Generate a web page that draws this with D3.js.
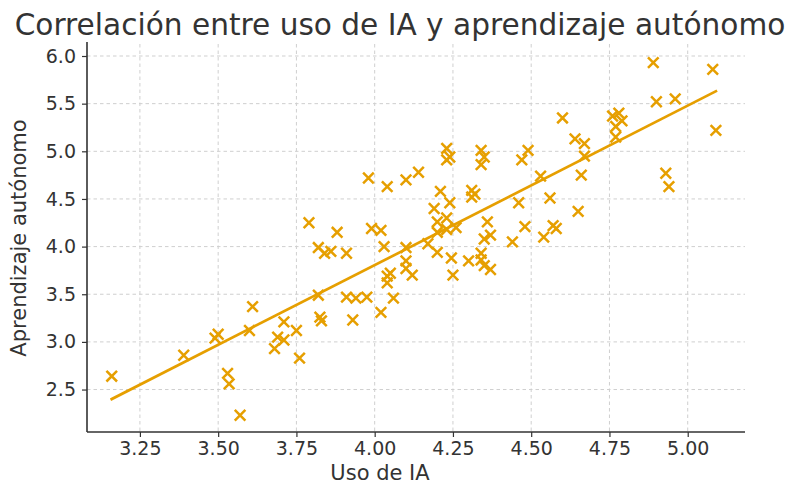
<!DOCTYPE html>
<html>
<head>
<meta charset="utf-8">
<script src="https://cdn.jsdelivr.net/npm/d3@7"></script>
<style>
  body { margin: 0; background: #fff; }
  svg { display: block; font-family: "DejaVu Sans", sans-serif; }
</style>
</head>
<body>
<svg id="chart" width="788" height="487"></svg>
<script>
// ---- Data ----
const usoIA = [
  3.16, 3.39, 3.49, 3.50, 3.53, 3.535, 3.57, 3.61, 3.60, 3.71, 3.69, 3.68, 3.71, 3.75, 3.76,
  3.79, 3.82, 3.84, 3.86, 3.82, 3.825, 3.83, 3.88, 3.91, 3.93, 3.91, 3.94, 3.975, 3.98, 4.02,
  4.03, 4.04, 3.99, 4.02, 4.04, 4.05, 4.04, 4.06, 4.10, 4.10, 4.10, 4.12, 4.10, 4.14,
  4.17, 4.20, 4.19, 4.21, 4.20, 4.23, 4.20, 4.23, 4.24, 4.26, 4.245, 4.25, 4.30, 4.34, 4.34, 4.35, 4.37,
  4.23, 4.24, 4.23, 4.34, 4.35, 4.34, 4.31, 4.32, 4.31, 4.36, 4.35, 4.37, 4.44, 4.46, 4.48, 4.47,
  4.49, 4.53, 4.56, 4.57, 4.58, 4.54,
  4.60, 4.64, 4.67, 4.67, 4.66, 4.65, 4.76, 4.78, 4.79, 4.77, 4.77, 4.89, 4.90, 4.96, 5.08, 5.09, 4.93, 4.94
];
const aprendizaje = [
  2.64, 2.86, 3.04, 3.08, 2.67, 2.56, 2.23, 3.37, 3.12, 3.21, 3.05, 2.93, 3.02, 3.12, 2.83,
  4.25, 3.99, 3.93, 3.95, 3.49, 3.26, 3.22, 4.15, 3.93, 3.23, 3.47, 3.46, 3.47, 4.72, 3.31,
  4.00, 4.63, 4.19, 4.17, 3.69, 3.72, 3.62, 3.46, 3.99, 3.85, 3.77, 3.70, 4.70, 4.78,
  4.03, 3.94, 4.40, 4.58, 4.26, 4.30, 4.15, 4.18, 4.46, 4.20, 3.88, 3.70, 3.85, 3.93, 3.86, 3.80, 3.76,
  5.03, 4.94, 4.91, 5.01, 4.94, 4.86, 4.59, 4.55, 4.52, 4.26, 4.08, 4.12, 4.05, 4.46, 4.21, 4.91,
  5.01, 4.74, 4.51, 4.22, 4.19, 4.10,
  5.35, 5.13, 5.08, 4.95, 4.75, 4.37, 5.37, 5.40, 5.32, 5.26, 5.15, 5.93, 5.52, 5.55, 5.86, 5.22, 4.77, 4.63
];
// fitted trend line (end points)
const trendX = [3.16, 5.09];
const trendY = [2.40, 5.63];

const xTicks = [3.25, 3.50, 3.75, 4.00, 4.25, 4.50, 4.75, 5.00];
const yTicks = [2.5, 3.0, 3.5, 4.0, 4.5, 5.0, 5.5, 6.0];
const xDomain = [3.081, 5.183];
const yDomain = [2.0545, 6.126];

const titleText = "Correlación entre uso de IA y aprendizaje autónomo";
const xLabel = "Uso de IA";
const yLabel = "Aprendizaje autónomo";

// ---- Layout ----
const color = "#E69F00";
const m = { left: 87, right: 745, top: 44, bottom: 432 };
const svg = d3.select("#chart");

const x = d3.scaleLinear().domain(xDomain).range([m.left, m.right]);
const y = d3.scaleLinear().domain(yDomain).range([m.bottom, m.top]);

// grid
const grid = svg.append("g").attr("class", "grid");
grid.selectAll("line.v").data(xTicks).join("line")
  .attr("x1", d => x(d)).attr("x2", d => x(d))
  .attr("y1", m.top).attr("y2", m.bottom)
  .attr("stroke", "#cfcfcf").attr("stroke-width", 1).attr("stroke-dasharray", "3.5,3");
grid.selectAll("line.h").data(yTicks).join("line")
  .attr("y1", d => y(d)).attr("y2", d => y(d))
  .attr("x1", m.left).attr("x2", m.right)
  .attr("stroke", "#cfcfcf").attr("stroke-width", 1).attr("stroke-dasharray", "3.5,3");

// axes
const xAxis = d3.axisBottom(x).tickValues(xTicks).tickFormat(d3.format(".2f")).tickSizeOuter(0).tickSize(5).tickPadding(5);
const yAxis = d3.axisLeft(y).tickValues(yTicks).tickFormat(d3.format(".1f")).tickSizeOuter(0).tickSize(5).tickPadding(6);

const gx = svg.append("g").attr("transform", `translate(0,${m.bottom})`).call(xAxis);
const gy = svg.append("g").attr("transform", `translate(${m.left},0)`).call(yAxis);
[gx, gy].forEach(g => {
  g.select(".domain").attr("stroke", "#333").attr("stroke-width", 1.6);
  g.selectAll(".tick line").attr("stroke", "#333").attr("stroke-width", 1.2);
  g.selectAll(".tick text").attr("fill", "#333").style("font-size", "19px").style("font-family", "DejaVu Sans, sans-serif");
});
gy.select(".domain").attr("d", `M0,${m.bottom}V${m.top - 2}`);
gx.select(".domain").attr("d", `M${m.left},0H${m.right}`);

// trend line
svg.append("line")
  .attr("x1", x(trendX[0])).attr("y1", y(trendY[0]))
  .attr("x2", x(trendX[1])).attr("y2", y(trendY[1]))
  .attr("stroke", color).attr("stroke-width", 2.7).attr("stroke-linecap", "square");

// points as "x" markers
const pts = d3.range(usoIA.length).map(i => ({ x: usoIA[i], y: aprendizaje[i] }));
const s = 5.3;
svg.append("g").selectAll("path").data(pts).join("path")
  .attr("transform", d => `translate(${x(d.x)},${y(d.y)})`)
  .attr("d", `M${-s},${-s}L${s},${s}M${-s},${s}L${s},${-s}`)
  .attr("stroke", color).attr("stroke-width", 2.5).attr("fill", "none");

// labels
svg.append("text").attr("x", 400).attr("y", 35).attr("text-anchor", "middle")
  .attr("fill", "#333").style("font-size", "29.6px").text(titleText);
svg.append("text").attr("x", 380).attr("y", 480).attr("text-anchor", "middle")
  .attr("fill", "#333").style("font-size", "21px").text(xLabel);
svg.append("text").attr("transform", `translate(26,${(m.top + m.bottom) / 2}) rotate(-90)`)
  .attr("text-anchor", "middle").attr("fill", "#333").style("font-size", "21px").text(yLabel);
</script>
</body>
</html>
